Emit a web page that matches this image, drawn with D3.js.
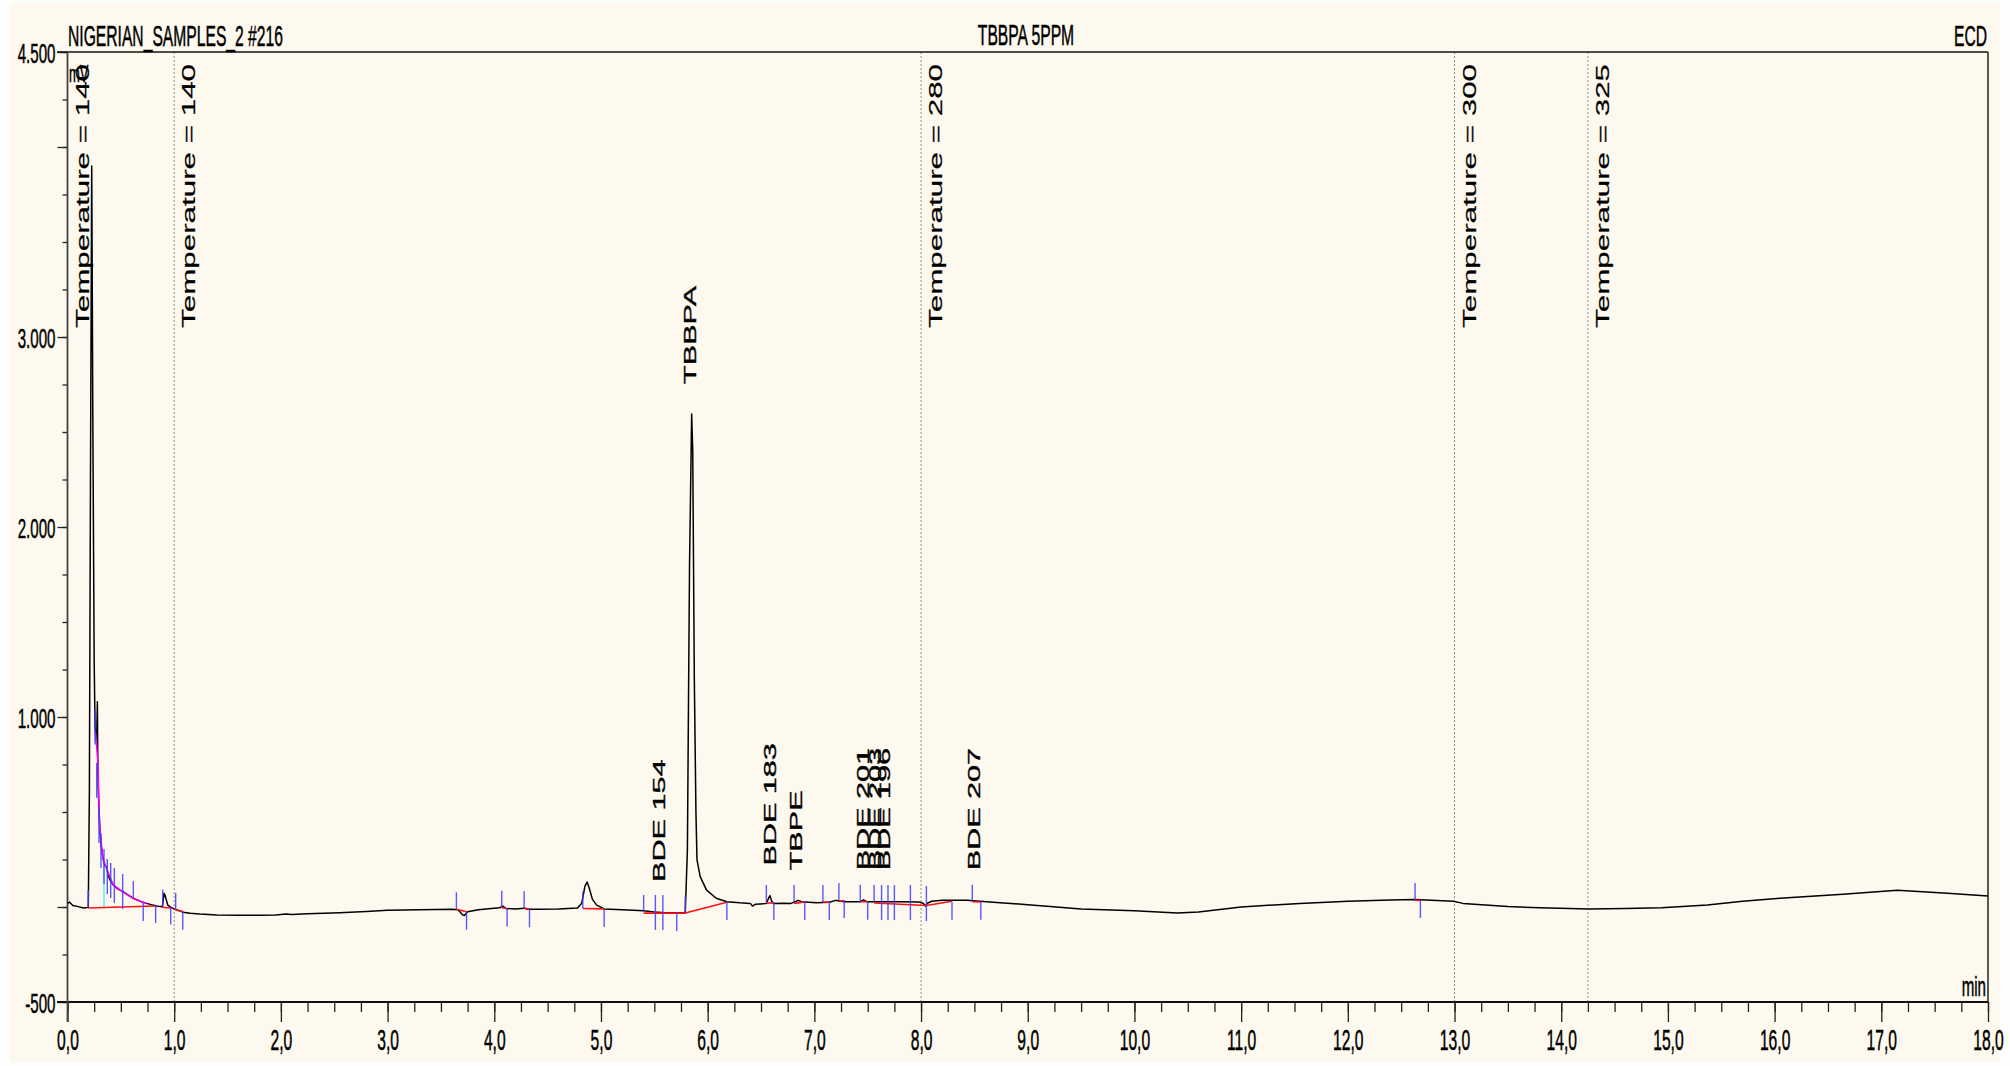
<!DOCTYPE html>
<html>
<head>
<meta charset="utf-8">
<script src="https://cdn.jsdelivr.net/npm/d3@7"></script>
<style>
  html, body { margin: 0; padding: 0; background: #fdfdfb; }
  text { font-family: "Liberation Sans", Arial, sans-serif; fill: #000; }
</style>
</head>
<body>
<div id="chart"></div>
<script>
// chromatogram trace (min, mV)
var traceTime = [
  0.00, 0.02, 0.05, 0.10, 0.15, 0.195, 0.205, 0.215, 0.227, 0.238,
  0.250, 0.258, 0.266, 0.274, 0.280, 0.285, 0.292, 0.305, 0.320, 0.336,
  0.350, 0.367, 0.380, 0.400, 0.430, 0.470, 0.520, 0.570, 0.617, 0.680,
  0.742, 0.800, 0.836, 0.870, 0.890, 0.905, 0.915, 0.940, 0.970, 0.990,
  1.040, 1.085, 1.150, 1.240, 1.400, 1.600, 1.800, 1.950, 2.050, 2.100,
  2.250, 2.550, 2.800, 3.000, 3.300, 3.600, 3.660, 3.700, 3.720, 3.750,
  3.850, 4.000, 4.050, 4.080, 4.110, 4.200, 4.280, 4.310, 4.400, 4.600,
  4.780, 4.820, 4.850, 4.870, 4.890, 4.920, 4.960, 5.030, 5.200, 5.400,
  5.500, 5.600, 5.750, 5.790, 5.810, 5.830, 5.850, 5.860, 5.875, 5.890,
  5.900, 5.930, 5.990, 6.080, 6.180, 6.300, 6.400, 6.420, 6.450, 6.550,
  6.570, 6.584, 6.600, 6.620, 6.700, 6.780, 6.820, 6.850, 6.880, 7.020,
  7.140, 7.200, 7.240, 7.300, 7.430, 7.460, 7.490, 7.600, 7.800, 7.980,
  8.020, 8.040, 8.060, 8.100, 8.200, 8.430, 8.740, 9.000, 9.210, 9.500,
  10.000, 10.400, 10.600, 11.000, 11.550, 12.000, 12.400, 12.630, 12.990, 13.080,
  13.500, 13.800, 14.260, 14.600, 14.940, 15.370, 15.700, 16.050, 16.640, 17.150,
  17.620, 18.000
];
var traceSignal = [
  20, 25, 8, 2, -5, -2, 600, 2200, 3900, 2500,
  1300, 950, 880, 900, 1080, 700, 560, 390, 300, 247,
  215, 212, 170, 140, 116, 95, 81, 62, 46, 30,
  19, 10, 5, 2, 5, 72, 60, 10, -2, -7,
  -18, -28, -33, -37, -42, -43, -43, -42, -37, -40,
  -35, -30, -24, -17, -14, -12, -15, -40, -45, -25,
  -15, -6, -4, 5, -8, -10, -6, -12, -12, -10,
  -5, 20, 110, 131, 100, 40, 10, -10, -14, -20,
  -26, -30, -30, -30, 300, 1800, 2595, 2400, 1200, 500,
  248, 160, 89, 46, 28, 22, 19, 5, 15, 18,
  45, 60, 30, 18, 20, 19, 28, 35, 28, 23,
  25, 35, 30, 28, 28, 38, 28, 28, 28, 26,
  20, 5, 20, 30, 35, 35, 23, 12, 2, -10,
  -20, -32, -26, 0, 19, 30, 37, 40, 30, 19,
  2, -4, -10, -8, -4, 10, 30, 46, 67, 88,
  72, 58
];

// axis ticks
var xTickLabels = [0, 1, 2, 3, 4, 5, 6, 7, 8, 9, 10, 11, 12, 13, 14, 15, 16, 17, 18];
var yTickLabels = [4500, 3000, 2000, 1000, -500];
var yMajorUnlabeled = [4000, 0];

// temperature program events
var tempTimes = [0, 1.0, 8.0, 13.0, 14.25];
var tempLabels = ["Temperature = 140", "Temperature = 140", "Temperature = 280", "Temperature = 300", "Temperature = 325"];

// named peaks
var peakNames = ["BDE 154", "TBBPA", "BDE 183", "TBPE", "BDE 201", "BDE 203", "BDE 196", "BDE 207"];
var peakTimes = [5.54, 5.83, 6.58, 6.83, 7.46, 7.57, 7.65, 8.50];
var peakHeights = [-26, 2595, 60, 35, 35, 35, 35, 35];

// integration marks: time, signal where they sit, direction (1 up, -1 down, 0 both)
var markerTime = [0.195, 0.258, 0.274, 0.295, 0.314, 0.342, 0.373, 0.405, 0.439, 0.517,
  0.617, 0.71, 0.826, 0.892, 0.967, 1.014, 1.08,
  3.645, 3.74, 4.07, 4.12, 4.28, 4.33, 4.83, 5.03,
  5.40, 5.51, 5.58, 5.71, 5.79, 6.18, 6.55, 6.62, 6.81, 6.91,
  7.08, 7.14, 7.23, 7.28, 7.43, 7.50, 7.56, 7.63, 7.69, 7.75,
  7.90, 8.05, 8.29, 8.48, 8.56, 12.63, 12.68];
var markerSignal = [-1, 950, 670, 432, 300, 216, 163, 142, 116, 84,
  47, 21, 11, 2, 2, -16, -25,
  -12, -25, -4, -8, -6, -12, -8, -10,
  -26, -26, -26, -32, -32, 26, 26, 26, 26, 26,
  26, 26, 37, 37, 28, 28, 26, 26, 26, 26,
  26, 21, 28, 28, 28, 37, 37];
var markerDir = [1, 0, 0, 0, 0, 0, 0, 0, 0, 0,
  1, -1, -1, 1, -1, 1, -1,
  1, -1, 1, -1, 1, -1, 1, -1,
  1, 0, 0, -1, 1, -1, 1, -1, 1, -1,
  1, -1, 1, -1, 1, -1, 1, 0, 0, 0,
  0, 0, -1, 1, -1, 1, -1];

// baselines under integrated peaks: [t1, v1, t2, v2]
var baselineSegments = [
  [0.195, -5, 0.82, 5], [0.88, -1, 0.975, -5], [0.99, -10, 1.085, -25],
  [3.645, -12, 3.74, -25], [4.07, -4, 4.12, -8], [4.28, -6, 4.33, -12],
  [4.83, -8, 5.03, -10], [5.40, -32, 5.79, -32], [5.79, -32, 6.18, 25],
  [6.55, 21, 6.62, 21], [6.81, 19, 6.91, 26], [7.08, 26, 7.14, 26],
  [7.23, 32, 7.28, 32], [7.43, 28, 7.50, 28], [7.56, 21, 8.05, 8],
  [8.05, 8, 8.29, 30], [8.48, 28, 8.56, 26], [12.63, 35, 12.68, 35]
];

// skim line on the solvent tail
var skimTime = [0.262, 0.285, 0.300, 0.330, 0.360, 0.430, 0.520, 0.620, 0.740];
var skimSignal = [920, 760, 430, 260, 210, 116, 78, 44, 17];
var dropTime = [0.342, 0.342];
var dropSignal = [216, -1];

var svgWidth = 2010;
var svgHeight = 1066;

var svg = d3.select("#chart")
  .append("svg")
  .attr("width", svgWidth)
  .attr("height", svgHeight);

svg.append("rect")
  .attr("x", 10).attr("y", 3)
  .attr("width", 1990).attr("height", 1059)
  .attr("fill", "#fdf9ee");

var x = d3.scaleLinear().domain([0, 18]).range([67.5, 1988]);
var y = d3.scaleLinear().domain([-500, 4500]).range([1002, 52]);

// condensed text like the instrument software
function narrowText(parent, px, py, str, size, anchor, sx) {
  var g = parent.append("g").attr("transform", `translate(${px},${py})`);
  g.append("text")
    .attr("transform", `scale(${sx},1)`)
    .attr("text-anchor", anchor)
    .attr("stroke", "#000")
    .attr("stroke-width", 0.5)
    .style("font-size", size + "px")
    .text(str);
  return g;
}

// temperature lines
var tempGroup = svg.append("g");
tempTimes.forEach(function(t, i) {
  tempGroup.append("line")
    .attr("x1", x(t)).attr("x2", x(t))
    .attr("y1", 52).attr("y2", 1002)
    .attr("stroke", "#8c8c8c")
    .attr("stroke-width", 1)
    .attr("stroke-dasharray", "2,2");
  var g = tempGroup.append("g")
    .attr("transform", `translate(${x(t) + 21}, 64) rotate(-90)`);
  g.append("text")
    .attr("transform", "scale(1.65,1)")
    .attr("text-anchor", "end")
    .attr("stroke", "#000")
    .attr("stroke-width", 0.2)
    .style("font-size", "19px")
    .text(tempLabels[i]);
});

// axes
var sx = 0.54;
var fmtY = d3.formatLocale({ decimal: ",", thousands: ".", grouping: [3], currency: ["", ""], minus: "-" }).format(",d");

var xMinor = svg.append("g")
  .attr("transform", "translate(0,1002)")
  .call(d3.axisBottom(x).tickValues(d3.range(0, 18.01, 0.25)).tickSize(10).tickSizeOuter(0).tickFormat(""));
xMinor.select(".domain").remove();

var xAxis = svg.append("g")
  .attr("transform", "translate(0,1002)")
  .call(d3.axisBottom(x).tickValues(xTickLabels).tickSize(20).tickSizeOuter(0)
    .tickFormat(d => d3.format(".1f")(d).replace(".", ",")));
xAxis.select(".domain").remove();
xAxis.selectAll("text")
  .attr("y", 27)
  .attr("transform", `scale(${sx},1)`)
  .attr("fill", "#000")
  .attr("stroke", "#000")
  .attr("stroke-width", 0.5)
  .style("font-family", "'Liberation Sans', Arial, sans-serif")
  .style("font-size", "29px");

var yMinor = svg.append("g")
  .attr("transform", "translate(67.5,0)")
  .call(d3.axisLeft(y).tickValues(d3.range(-500, 4501, 250)).tickSize(5).tickSizeOuter(0).tickFormat(""));
yMinor.select(".domain").remove();

var yMajor = svg.append("g")
  .attr("transform", "translate(67.5,0)")
  .call(d3.axisLeft(y).tickValues(yMajorUnlabeled).tickSize(10).tickSizeOuter(0).tickFormat(""));
yMajor.select(".domain").remove();

var yAxis = svg.append("g")
  .attr("transform", "translate(67.5,0)")
  .call(d3.axisLeft(y).tickValues(yTickLabels).tickSize(10).tickSizeOuter(0).tickFormat(fmtY));
yAxis.select(".domain").remove();
yAxis.selectAll("text")
  .attr("x", -12 / sx)
  .attr("dy", "0.36em")
  .attr("transform", `scale(${sx},1)`)
  .attr("fill", "#000")
  .attr("stroke", "#000")
  .attr("stroke-width", 0.5)
  .style("font-family", "'Liberation Sans', Arial, sans-serif")
  .style("font-size", "28px");

svg.selectAll(".tick line").attr("stroke", "#222").attr("stroke-width", 1.3);

// frame
svg.append("line").attr("x1", 57).attr("x2", 1988).attr("y1", 1002).attr("y2", 1002)
  .attr("stroke", "#111").attr("stroke-width", 2);
svg.append("line").attr("x1", 57).attr("x2", 1988).attr("y1", 52).attr("y2", 52)
  .attr("stroke", "#111").attr("stroke-width", 1.5);
svg.append("line").attr("x1", 67.5).attr("x2", 67.5).attr("y1", 52).attr("y2", 1022)
  .attr("stroke", "#444").attr("stroke-width", 1.8);
svg.append("line").attr("x1", 1988).attr("x2", 1988).attr("y1", 52).attr("y2", 1002)
  .attr("stroke", "#222").attr("stroke-width", 1.5);

// trace
var traceData = traceTime.map((t, i) => [t, traceSignal[i]]);
var lineGen = d3.line().x(d => x(d[0])).y(d => y(d[1]));

svg.append("path")
  .datum(traceData)
  .attr("d", lineGen)
  .attr("fill", "none")
  .attr("stroke", "#000")
  .attr("stroke-width", 1.5)
  .attr("stroke-linejoin", "round");

// skim and drop lines
svg.append("path")
  .datum(skimTime.map((t, i) => [t, skimSignal[i]]))
  .attr("d", lineGen)
  .attr("fill", "none")
  .attr("stroke", "#ff00ff")
  .attr("stroke-width", 1.5);

svg.append("path")
  .datum(dropTime.map((t, i) => [t, dropSignal[i]]))
  .attr("d", lineGen)
  .attr("fill", "none")
  .attr("stroke", "#7ff5f5")
  .attr("stroke-width", 2);

// baselines
svg.append("g").selectAll("line")
  .data(baselineSegments)
  .enter()
  .append("line")
  .attr("x1", d => x(d[0])).attr("y1", d => y(d[1]))
  .attr("x2", d => x(d[2])).attr("y2", d => y(d[3]))
  .attr("stroke", "#ff1010")
  .attr("stroke-width", 1.6);

// integration marks
svg.append("g").selectAll("line")
  .data(markerTime)
  .enter()
  .append("line")
  .attr("x1", d => x(d)).attr("x2", d => x(d))
  .attr("y1", (d, i) => y(markerSignal[i]) - (markerDir[i] >= 0 ? 17 : 0))
  .attr("y2", (d, i) => y(markerSignal[i]) + (markerDir[i] <= 0 ? 18 : 0))
  .attr("stroke", "#3c3cff")
  .attr("stroke-opacity", 0.85)
  .attr("stroke-width", 1.4);

// peak names
svg.append("g").selectAll("g")
  .data(peakNames)
  .enter()
  .append("g")
  .attr("transform", (d, i) => `translate(${x(peakTimes[i]) + 6}, ${y(peakHeights[i]) - 30}) rotate(-90)`)
  .append("text")
  .attr("transform", "scale(1.8,1)")
  .attr("text-anchor", "start")
  .attr("stroke", "#000")
  .attr("stroke-width", 0.35)
  .style("font-size", "17px")
  .text(d => d);

// header and units
narrowText(svg, 68, 46, "NIGERIAN_SAMPLES_2 #216", 29, "start", sx);
narrowText(svg, 1026, 45, "TBBPA 5PPM", 29, "middle", sx);
narrowText(svg, 1987, 46, "ECD", 29, "end", sx);
narrowText(svg, 69, 82, "mV", 24, "start", sx);
narrowText(svg, 1986, 996, "min", 28, "end", sx);
</script>
</body>
</html>
